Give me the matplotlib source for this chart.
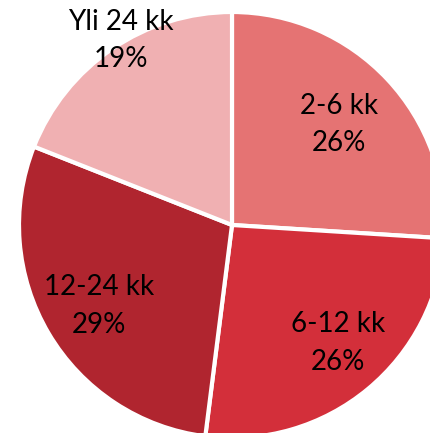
import matplotlib
matplotlib.use("Agg")
import matplotlib.pyplot as plt
import numpy as np

categories = ["2-6 kk", "6-12 kk", "12-24 kk", "Yli 24 kk"]
values = [26, 26, 29, 19]
colors = ["#E57373", "#D32F3A", "#B0252F", "#F0B0B2"]
label_r = [0.69, 0.745, 0.73, 1.01]
label_dtheta = [0, 2.4, 0.9, -3.2]

fig = plt.figure(figsize=(4.30, 4.33), dpi=100)
ax = fig.add_axes([0, 0, 1, 1])
wedges, _ = ax.pie(values, colors=colors, startangle=90, counterclock=False,
                   radius=1.0, center=(0, 0),
                   wedgeprops=dict(edgecolor="white", linewidth=3))
for w, cat, v, r, dt in zip(wedges, categories, values, label_r, label_dtheta):
    mid = np.deg2rad((w.theta1 + w.theta2) / 2 + dt)
    ax.text(r * np.cos(mid), r * np.sin(mid), f"{cat}\n{v}%",
            ha="center", va="center", fontsize=20, family="Lato",
            linespacing=1.55, color="black")
ax.set_xlim(-232 / 213, (430 - 232) / 213)
ax.set_ylim(-(433 - 225) / 213, 225 / 213)
ax.set_aspect("equal")
ax.axis("off")
fig.savefig("out.png", dpi=100)
